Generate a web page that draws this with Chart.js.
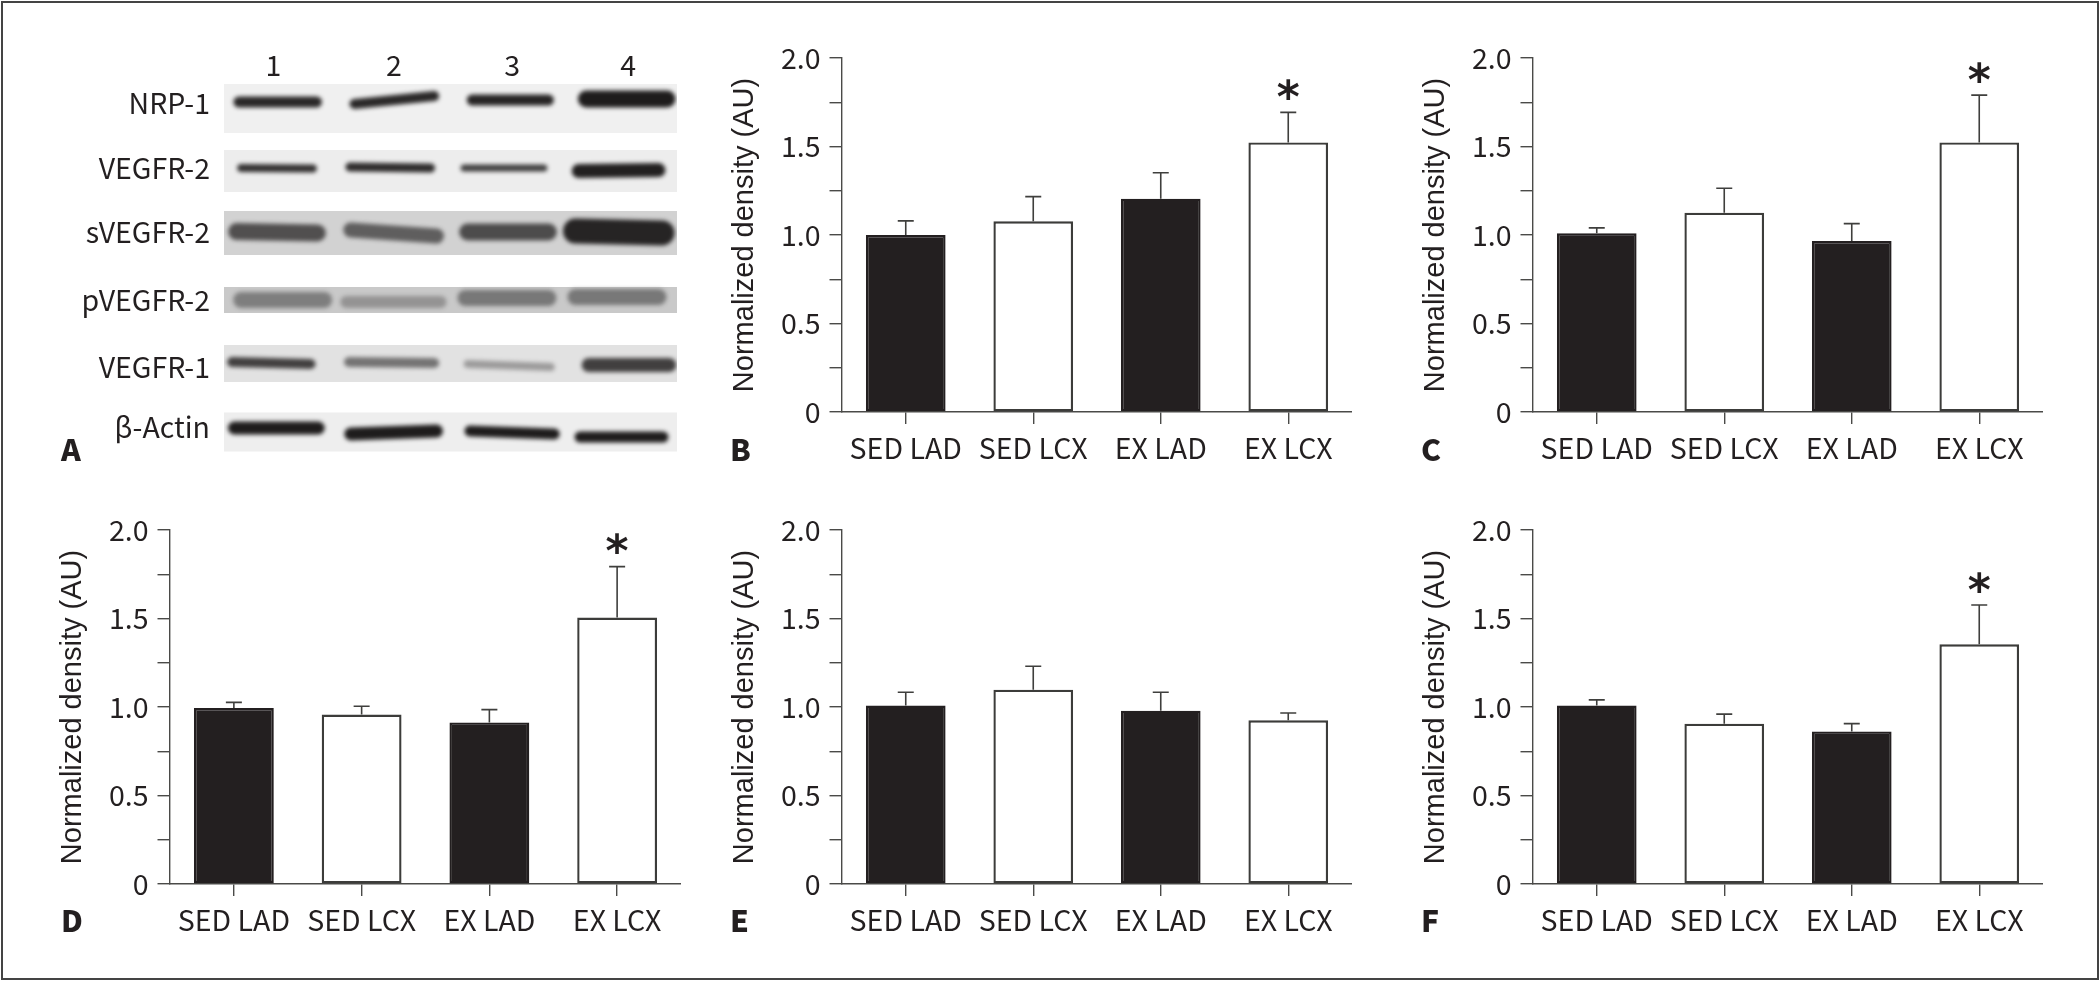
<!DOCTYPE html>
<html lang="en">
<head>
    <meta charset="UTF-8">
    <title>Normalized density blots</title>
    <script src="https://cdn.jsdelivr.net/npm/chart.js"></script>
    <style>
        html, body { margin: 0; padding: 0; background: #fff; overflow: hidden; }
        #frame { position: absolute; left: 1px; top: 1px; width: 2094px; height: 975px; border: 2px solid #444; }
        canvas { position: absolute; }
        .tag { position: absolute; font: 900 30px "Noto Sans CJK SC", sans-serif; color: #231f20; line-height: 1; }
    </style>
</head>
<body>
    <div id="frame"></div>
    <canvas id="blot" style="left:60px;top:40px" width="617" height="452"></canvas>
    <canvas id="chartB" style="left:728px;top:28px" width="624" height="444"></canvas>
    <canvas id="chartC" style="left:1419px;top:28px" width="624" height="444"></canvas>
    <canvas id="chartD" style="left:56px;top:500px" width="625" height="444"></canvas>
    <canvas id="chartE" style="left:728px;top:500px" width="624" height="444"></canvas>
    <canvas id="chartF" style="left:1419px;top:500px" width="624" height="444"></canvas>
    <div class="tag" style="left:61px;top:433px">A</div>
    <div class="tag" style="left:730px;top:433px">B</div>
    <div class="tag" style="left:1421px;top:433px">C</div>
    <div class="tag" style="left:61px;top:904px">D</div>
    <div class="tag" style="left:730px;top:904px">E</div>
    <div class="tag" style="left:1421px;top:904px">F</div>

    <script>
        const categories = ['SED LAD', 'SED LCX', 'EX LAD', 'EX LCX'];
        const yLabels = { 0: '0', 0.5: '0.5', 1: '1.0', 1.5: '1.5', 2: '2.0' };

        const valuesB = [1.0, 1.077, 1.205, 1.523];
        const errorB = [1.08, 1.217, 1.352, 1.693];
        const valuesC = [1.01, 1.126, 0.966, 1.523];
        const errorC = [1.04, 1.264, 1.064, 1.79];
        const valuesD = [0.994, 0.957, 0.913, 1.505];
        const errorD = [1.026, 1.004, 0.985, 1.793];
        const valuesE = [1.008, 1.098, 0.979, 0.925];
        const errorE = [1.083, 1.23, 1.083, 0.966];
        const valuesF = [1.008, 0.906, 0.862, 1.354];
        const errorF = [1.04, 0.96, 0.906, 1.576];

        // blot panel
        const blotRows = ['NRP-1', 'VEGFR-2', 'sVEGFR-2', 'pVEGFR-2', 'VEGFR-1', 'β-Actin'];
        const blotLanes = ['1', '2', '3', '4'];
        const rowLabelAt = [103, 168, 232, 300, 367, 427];
        const laneLabelAt = [10.9, 37.5, 63.6, 89.2];
        const stripAt = [108.5, 171, 233, 300, 363.5, 432];
        const bandFrom = [
            [3.3, 28.8, 54.8, 80], [3.8, 27.8, 53, 78.3], [2.8, 28, 53.8, 77.6],
            [3.8, 27, 53.3, 77.6], [1.8, 27.6, 53.8, 80.5], [2.3, 28, 54.3, 78.6]
        ];
        const bandTo = [
            [20.4, 46.4, 71.6, 97.8], [19.6, 45.6, 70.6, 95.9], [20.6, 46.9, 71.6, 96.7],
            [22.1, 47.8, 71.6, 95.9], [19.1, 46.4, 72.1, 98.3], [20.8, 46.9, 72.9, 96.9]
        ];
        const bandLeft = [
            [102, 104, 100, 99], [168, 167, 168, 171], [231.5, 230, 232, 231],
            [300, 302, 298, 297], [362, 362, 364, 365], [428, 434, 431, 437]
        ];
        const bandRight = [
            [102, 96, 100, 99], [168.5, 168, 168, 170], [233, 236, 232, 233],
            [300, 302, 298, 297], [364, 363, 367, 365], [428, 431, 434, 437]
        ];
        const bandDensity = [
            [0.92, 0.92, 0.94, 0.98], [0.88, 0.9, 0.82, 0.96], [0.7, 0.62, 0.72, 0.93],
            [0.42, 0.3, 0.46, 0.46], [0.8, 0.55, 0.35, 0.8], [0.98, 0.98, 0.98, 0.98]
        ];

        // styling of the blot
        const bandThickness = [
            [11, 10, 11, 17], [8, 9, 7, 14], [17, 15, 17, 25],
            [16, 12, 16, 16], [10, 10, 8, 14], [13, 13, 11, 11]
        ];
        const stripHeight = [49, 42, 44, 26, 37, 39];
        const stripColor = ['#f0f0f0', '#ededed', '#d2d2d2', '#c9c9c9', '#e2e2e2', '#eeeeee'];

        const ink = '#231f20';
        const axisColor = '#4a4a48';
        const labelFont = '"Noto Sans CJK SC", "Noto Sans", sans-serif';
        Chart.defaults.color = ink;
        Chart.defaults.font.family = labelFont;
        Chart.defaults.devicePixelRatio = 1;

        // error bars and the asterisk, placed through the chart's own scales
        const errorBars = {
            id: 'errorBars',
            afterDatasetsDraw(chart, args, opts) {
                const { ctx, scales: { x, y } } = chart;
                ctx.save();
                ctx.strokeStyle = '#3f3f3d';
                ctx.lineWidth = 1.6;
                opts.tops.forEach((top, i) => {
                    const px = x.getPixelForValue(i);
                    const py = y.getPixelForValue(top);
                    const base = y.getPixelForValue(opts.values[i]);
                    ctx.beginPath();
                    ctx.moveTo(px, base);
                    ctx.lineTo(px, py);
                    ctx.moveTo(px - 8, py);
                    ctx.lineTo(px + 8, py);
                    ctx.stroke();
                });
                if (opts.star >= 0) {
                    const px = x.getPixelForValue(opts.star);
                    const py = y.getPixelForValue(opts.tops[opts.star]);
                    ctx.fillStyle = ink;
                    ctx.font = 'bold 44px "DejaVu Sans"';
                    ctx.textAlign = 'center';
                    ctx.textBaseline = 'alphabetic';
                    const m = ctx.measureText('*');
                    ctx.fillText('*', px, py - 23 + (m.actualBoundingBoxAscent - m.actualBoundingBoxDescent) / 2);
                }
                ctx.restore();
            }
        };

        function drawPanel(id, values, tops, star) {
            new Chart(document.getElementById(id), {
                type: 'bar',
                data: {
                    labels: categories,
                    datasets: [{
                        data: values,
                        backgroundColor: [ink, '#fff', ink, '#fff'],
                        borderColor: [ink, '#3c3c3a', ink, '#3c3c3a'],
                        borderWidth: 2.4,
                        borderSkipped: false,
                        barPercentage: 0.625,
                        categoryPercentage: 1
                    }]
                },
                plugins: [errorBars],
                options: {
                    responsive: false,
                    animation: false,
                    layout: { padding: { top: 30 } },
                    plugins: {
                        legend: { display: false },
                        tooltip: { enabled: false },
                        errorBars: { values: values, tops: tops, star: star }
                    },
                    scales: {
                        x: {
                            afterFit(axis) { axis.height = 60; },
                            border: { color: axisColor, width: 1.6 },
                            grid: { drawOnChartArea: false, offset: false, tickLength: 12, color: axisColor, lineWidth: 1.4 },
                            ticks: { font: { size: 28.5 }, padding: 7, maxRotation: 0, autoSkip: false }
                        },
                        y: {
                            min: 0,
                            max: 2,
                            afterFit(axis) { axis.width = 114; },
                            afterBuildTicks(axis) {
                                axis.ticks = [0, 0.25, 0.5, 0.75, 1, 1.25, 1.5, 1.75, 2].map(v => ({ value: v }));
                            },
                            border: { color: axisColor, width: 1.4 },
                            grid: { drawOnChartArea: false, tickLength: 12.5, color: axisColor, lineWidth: 1.4 },
                            ticks: {
                                font: { size: 28.5 },
                                padding: 9,
                                autoSkip: false,
                                callback: v => yLabels[v] || ''
                            },
                            title: {
                                display: true,
                                text: 'Normalized density (AU)',
                                padding: 0,
                                font: { family: '"Liberation Sans", sans-serif', size: 29 }
                            }
                        }
                    }
                }
            });
        }

        drawPanel('chartB', valuesB, errorB, 3);
        drawPanel('chartC', valuesC, errorC, 3);
        drawPanel('chartD', valuesD, errorD, 3);
        drawPanel('chartE', valuesE, errorE, -1);
        drawPanel('chartF', valuesF, errorF, 3);

        // the blot: soft bands over the grey strips
        const softBands = {
            id: 'softBands',
            beforeDatasetDraw(chart, args) {
                if (args.meta.order === 0) chart.ctx.filter = 'blur(2px)';
            },
            afterDatasetDraw(chart) {
                chart.ctx.filter = 'none';
            }
        };

        const blotSets = [];
        blotRows.forEach((row, r) => {
            blotLanes.forEach((lane, l) => {
                blotSets.push({
                    label: row + ' ' + lane,
                    order: 0,
                    showLine: true,
                    pointRadius: 0,
                    borderCapStyle: 'round',
                    borderWidth: bandThickness[r][l],
                    borderColor: 'rgba(25,23,23,' + bandDensity[r][l] + ')',
                    data: [{ x: bandFrom[r][l], y: bandLeft[r][l] }, { x: bandTo[r][l], y: bandRight[r][l] }]
                });
            });
        });
        blotRows.forEach((row, r) => {
            blotSets.push({
                label: row + ' strip',
                order: 1,
                showLine: true,
                pointRadius: 0,
                borderCapStyle: 'butt',
                borderWidth: stripHeight[r],
                borderColor: stripColor[r],
                data: [{ x: 0, y: stripAt[r] }, { x: 100, y: stripAt[r] }]
            });
        });

        new Chart(document.getElementById('blot'), {
            type: 'scatter',
            data: { datasets: blotSets },
            plugins: [softBands],
            options: {
                responsive: false,
                animation: false,
                layout: { padding: { bottom: 40 } },
                plugins: { legend: { display: false }, tooltip: { enabled: false } },
                scales: {
                    x: {
                        position: 'top',
                        min: 0,
                        max: 100,
                        afterBuildTicks(axis) { axis.ticks = laneLabelAt.map(v => ({ value: v })); },
                        afterFit(axis) { axis.height = 44; },
                        border: { display: false },
                        grid: { display: false, drawTicks: false },
                        ticks: { font: { size: 28.5 }, padding: 2, maxRotation: 0, autoSkip: false, callback: (v, i) => blotLanes[i] }
                    },
                    y: {
                        reverse: true,
                        min: 84,
                        max: 452,
                        afterBuildTicks(axis) { axis.ticks = rowLabelAt.map(v => ({ value: v })); },
                        afterFit(axis) { axis.width = 164; },
                        border: { display: false },
                        grid: { display: false, drawTicks: false },
                        ticks: { font: { size: 28.5 }, padding: 14, autoSkip: false, callback: (v, i) => blotRows[i] }
                    }
                }
            }
        });
    </script>
</body>
</html>
